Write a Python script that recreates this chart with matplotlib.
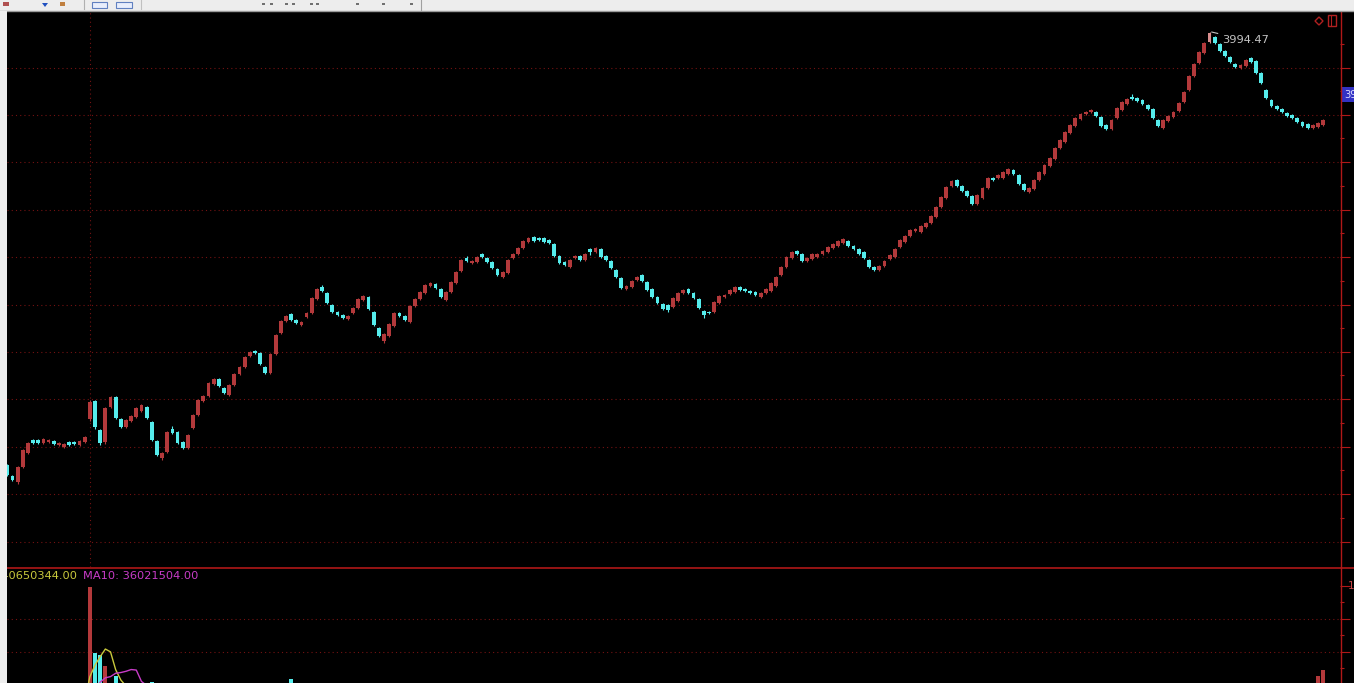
import numpy as np
import pandas as pd
import matplotlib
matplotlib.use("Agg")
import matplotlib.pyplot as plt
from matplotlib.patches import Rectangle, Polygon
from matplotlib.lines import Line2D

# ---------------- data (daily candles, index points) ----------------
opens = [3128, 3106, 3094, 3124, 3152, 3178, 3178, 3172, 3174, 3176,
         3168, 3164, 3174, 3174, 3168, 3174, 3220, 3256, 3198, 3174,
         3244, 3264, 3220, 3204, 3216, 3224, 3236, 3244, 3214, 3176,
         3142, 3154, 3200, 3194, 3174, 3162, 3202, 3228, 3256, 3266,
         3290, 3300, 3282, 3268, 3288, 3310, 3324, 3346, 3356, 3352,
         3324, 3312, 3350, 3392, 3416, 3430, 3418, 3408, 3424, 3432,
         3460, 3484, 3472, 3448, 3434, 3428, 3420, 3432, 3442, 3458,
         3464, 3434, 3402, 3376, 3386, 3406, 3432, 3426, 3414, 3446,
         3460, 3472, 3486, 3490, 3480, 3458, 3474, 3492, 3516, 3542,
         3532, 3534, 3550, 3542, 3534, 3520, 3504, 3512, 3542, 3550,
         3562, 3574, 3584, 3582, 3582, 3578, 3570, 3546, 3534, 3524,
         3542, 3546, 3538, 3560, 3554, 3560, 3546, 3536, 3518, 3502,
         3480, 3484, 3498, 3508, 3494, 3480, 3464, 3450, 3448, 3444,
         3456, 3472, 3480, 3472, 3460, 3436, 3434, 3434, 3452, 3464,
         3470, 3474, 3484, 3480, 3476, 3474, 3464, 3472, 3476, 3486,
         3508, 3524, 3542, 3556, 3550, 3536, 3540, 3544, 3550, 3554,
         3562, 3566, 3572, 3576, 3566, 3560, 3554, 3538, 3524, 3518,
         3526, 3540, 3544, 3564, 3574, 3586, 3596, 3594, 3604, 3612,
         3624, 3644, 3662, 3686, 3698, 3686, 3676, 3666, 3650, 3662,
         3682, 3702, 3702, 3702, 3710, 3718, 3708, 3690, 3674, 3680,
         3698, 3710, 3726, 3740, 3762, 3774, 3792, 3806, 3820, 3830,
         3834, 3834, 3824, 3808, 3800, 3822, 3838, 3850, 3864, 3862,
         3858, 3848, 3840, 3818, 3802, 3816, 3824, 3836, 3854, 3878,
         3906, 3932, 3952, 3974, 3984, 3970, 3956, 3944, 3930, 3922,
         3926, 3942, 3936, 3912, 3878, 3858, 3846, 3840, 3832, 3828,
         3822, 3814, 3810, 3802, 3804, 3808]

closes = [3108, 3098, 3124, 3158, 3172, 3172, 3172, 3180, 3178, 3170,
          3172, 3170, 3168, 3170, 3176, 3184, 3254, 3204, 3172, 3242,
          3264, 3222, 3204, 3218, 3226, 3242, 3248, 3222, 3178, 3148,
          3152, 3194, 3192, 3172, 3162, 3188, 3228, 3258, 3266, 3292,
          3300, 3286, 3272, 3288, 3310, 3324, 3344, 3354, 3352, 3330,
          3312, 3350, 3388, 3416, 3426, 3418, 3412, 3414, 3432, 3462,
          3480, 3476, 3452, 3434, 3428, 3422, 3426, 3442, 3460, 3466,
          3440, 3408, 3386, 3390, 3410, 3432, 3426, 3418, 3446, 3460,
          3474, 3488, 3492, 3482, 3464, 3474, 3494, 3514, 3538, 3536,
          3536, 3544, 3544, 3534, 3522, 3508, 3514, 3538, 3550, 3562,
          3576, 3582, 3576, 3578, 3574, 3572, 3546, 3532, 3528, 3538,
          3546, 3538, 3550, 3554, 3562, 3544, 3538, 3522, 3504, 3482,
          3486, 3496, 3504, 3496, 3478, 3464, 3452, 3440, 3438, 3462,
          3472, 3478, 3472, 3462, 3442, 3428, 3432, 3454, 3466, 3468,
          3478, 3484, 3478, 3476, 3472, 3468, 3472, 3480, 3492, 3504,
          3524, 3544, 3554, 3550, 3536, 3542, 3550, 3550, 3556, 3564,
          3570, 3576, 3580, 3566, 3560, 3550, 3542, 3524, 3518, 3526,
          3536, 3548, 3560, 3578, 3586, 3598, 3600, 3606, 3612, 3626,
          3644, 3664, 3684, 3696, 3686, 3676, 3666, 3650, 3668, 3682,
          3702, 3698, 3708, 3714, 3720, 3710, 3690, 3678, 3682, 3698,
          3714, 3728, 3742, 3762, 3778, 3794, 3808, 3822, 3830, 3834,
          3838, 3826, 3806, 3800, 3818, 3842, 3854, 3860, 3860, 3856,
          3850, 3840, 3822, 3806, 3818, 3826, 3834, 3852, 3874, 3906,
          3930, 3954, 3972, 3992, 3972, 3956, 3946, 3934, 3924, 3928,
          3938, 3934, 3912, 3892, 3862, 3846, 3840, 3834, 3826, 3822,
          3814, 3806, 3802, 3808, 3812, 3818]

highs = [3130, 3108, 3126, 3160, 3174, 3180, 3180, 3182, 3180, 3178,
         3174, 3172, 3176, 3176, 3178, 3186, 3258, 3258, 3200, 3244,
         3266, 3266, 3222, 3220, 3228, 3244, 3250, 3246, 3216, 3178,
         3154, 3196, 3206, 3196, 3176, 3190, 3230, 3260, 3268, 3294,
         3302, 3302, 3284, 3290, 3312, 3326, 3346, 3356, 3358, 3354,
         3326, 3352, 3390, 3418, 3428, 3432, 3420, 3416, 3434, 3464,
         3482, 3488, 3474, 3450, 3436, 3430, 3428, 3444, 3462, 3468,
         3466, 3436, 3404, 3392, 3412, 3434, 3434, 3428, 3448, 3462,
         3476, 3490, 3494, 3492, 3482, 3476, 3496, 3516, 3540, 3546,
         3538, 3546, 3552, 3544, 3536, 3522, 3516, 3540, 3552, 3564,
         3578, 3584, 3586, 3584, 3584, 3580, 3572, 3548, 3536, 3540,
         3548, 3548, 3552, 3562, 3564, 3562, 3548, 3538, 3520, 3504,
         3488, 3498, 3506, 3510, 3496, 3482, 3466, 3452, 3450, 3464,
         3474, 3480, 3482, 3474, 3462, 3438, 3436, 3456, 3468, 3470,
         3480, 3486, 3486, 3482, 3478, 3476, 3474, 3482, 3494, 3506,
         3526, 3546, 3556, 3558, 3552, 3544, 3552, 3552, 3558, 3566,
         3572, 3578, 3582, 3578, 3568, 3562, 3556, 3540, 3526, 3528,
         3538, 3550, 3562, 3580, 3588, 3600, 3602, 3608, 3614, 3628,
         3646, 3666, 3686, 3698, 3700, 3688, 3678, 3668, 3670, 3684,
         3704, 3704, 3710, 3716, 3722, 3720, 3710, 3692, 3684, 3700,
         3716, 3730, 3744, 3764, 3780, 3796, 3810, 3824, 3832, 3836,
         3840, 3836, 3826, 3810, 3820, 3844, 3856, 3862, 3870, 3864,
         3860, 3850, 3842, 3820, 3820, 3828, 3836, 3854, 3876, 3908,
         3932, 3956, 3974, 3994.47, 3986, 3972, 3958, 3946, 3932, 3930,
         3940, 3944, 3938, 3914, 3880, 3860, 3848, 3842, 3834, 3830,
         3824, 3816, 3812, 3810, 3814, 3820]

lows = [3106, 3096, 3090, 3122, 3150, 3170, 3170, 3170, 3172, 3168,
        3166, 3162, 3166, 3168, 3166, 3172, 3216, 3200, 3168, 3170,
        3242, 3220, 3202, 3202, 3214, 3222, 3234, 3220, 3176, 3146,
        3138, 3152, 3190, 3170, 3160, 3160, 3200, 3226, 3254, 3264,
        3288, 3284, 3270, 3266, 3286, 3308, 3322, 3344, 3350, 3328,
        3310, 3310, 3348, 3390, 3414, 3416, 3410, 3406, 3422, 3430,
        3458, 3474, 3450, 3432, 3426, 3420, 3418, 3430, 3440, 3456,
        3438, 3406, 3384, 3372, 3384, 3404, 3424, 3416, 3412, 3444,
        3458, 3470, 3484, 3480, 3462, 3456, 3472, 3490, 3514, 3534,
        3530, 3532, 3542, 3532, 3520, 3506, 3502, 3510, 3540, 3548,
        3560, 3572, 3574, 3576, 3572, 3570, 3544, 3530, 3526, 3522,
        3540, 3536, 3536, 3548, 3552, 3542, 3536, 3520, 3502, 3480,
        3478, 3482, 3496, 3494, 3476, 3462, 3450, 3438, 3434, 3442,
        3454, 3470, 3470, 3460, 3440, 3422, 3430, 3432, 3450, 3462,
        3468, 3472, 3476, 3474, 3470, 3466, 3462, 3470, 3474, 3484,
        3506, 3522, 3540, 3548, 3534, 3534, 3538, 3542, 3548, 3552,
        3560, 3564, 3570, 3564, 3558, 3548, 3540, 3522, 3516, 3516,
        3524, 3538, 3542, 3562, 3572, 3584, 3594, 3592, 3602, 3610,
        3622, 3642, 3660, 3684, 3684, 3674, 3664, 3648, 3648, 3660,
        3680, 3696, 3700, 3700, 3708, 3708, 3688, 3676, 3672, 3678,
        3696, 3708, 3724, 3738, 3760, 3772, 3790, 3804, 3818, 3828,
        3832, 3824, 3804, 3798, 3798, 3820, 3836, 3848, 3858, 3854,
        3848, 3838, 3820, 3804, 3800, 3814, 3822, 3834, 3852, 3876,
        3904, 3930, 3950, 3972, 3970, 3954, 3944, 3932, 3922, 3920,
        3924, 3932, 3910, 3890, 3860, 3844, 3838, 3832, 3824, 3820,
        3812, 3804, 3800, 3800, 3802, 3806]

# volume in millions of shares
volumes_m = [28, 26, 35, 38, 33, 25, 24, 26, 23, 30,
             29, 30, 29, 37, 33, 44, 99.6, 62.2, 60.9, 54.6,
             36, 49, 33, 44, 43, 41, 35, 40, 45.7, 42,
             30, 38, 30, 32, 30, 34, 36, 38, 30, 36,
             32, 33, 28, 30, 33, 30, 34, 28, 26, 32,
             30, 36, 40, 38, 32, 47.3, 33, 28, 30, 38,
             36, 30, 32, 31, 27, 25, 24, 28, 32, 30,
             33, 36, 34, 30, 33, 35, 27, 26, 34, 32,
             31, 33, 30, 29, 31, 30, 32, 34, 36, 30,
             27, 28, 29, 30, 31, 30, 28, 33, 30, 31,
             32, 29, 28, 26, 25, 26, 33, 32, 28, 30,
             27, 26, 28, 27, 26, 29, 28, 31, 33, 35,
             28, 29, 27, 28, 31, 32, 30, 29, 31, 30,
             31, 27, 28, 30, 33, 32, 26, 33, 31, 25,
             28, 29, 27, 25, 24, 25, 26, 27, 31, 32,
             33, 35, 31, 28, 30, 26, 27, 26, 27, 28,
             28, 29, 28, 27, 26, 28, 29, 32, 28, 27,
             29, 28, 31, 33, 31, 30, 26, 29, 28, 32,
             34, 35, 36, 33, 31, 30, 30, 32, 33, 34,
             35, 30, 29, 31, 30, 29, 33, 32, 28, 32,
             33, 34, 33, 36, 35, 36, 35, 36, 33, 30,
             29, 30, 33, 32, 33, 36, 35, 33, 30, 29,
             30, 31, 34, 33, 32, 30, 31, 34, 36, 39,
             40, 41, 40, 42, 38, 36, 33, 32, 31, 29,
             31, 30, 36, 38, 37, 33, 30, 33, 31, 32,
             31, 34, 33, 34.6, 49, 52.6]

peak_label = "3994.47"
vol_label = "MA5: 40650344.00"
ma10_label = "MA10: 36021504.00"
price_tag = "3900.00"
vol_axis_label = "1.00"

n = len(opens)
assert len(closes) == n and len(highs) == n and len(lows) == n and len(volumes_m) == n

# ---------------- style ----------------
UP = "#b3393b"
DOWN = "#55ecec"
PEAK = "#d98e8e"
GRID = "#741212"
AXIS = "#b01818"
W, H = 1354, 683

def fx(px):
    return px / W

def fy(py):
    return 1 - py / H

fig = plt.figure(figsize=(W / 100, H / 100), dpi=100, facecolor="black")

ax = fig.add_axes([fx(7), fy(567), fx(1340) - fx(7), fy(12) - fy(567)], facecolor="black")
axv = fig.add_axes([fx(7), fy(683), fx(1340) - fx(7), fy(568) - fy(683)], facecolor="black")

x = np.arange(n)
o = np.array(opens, float)
c = np.array(closes, float)
hi = np.array(highs, float)
lo = np.array(lows, float)
v = np.array(volumes_m, float)

up = c >= o
colors = np.where(up, UP, DOWN).astype(object)
colors[int(np.argmax(hi))] = PEAK

# wicks and bodies
ax.vlines(x, lo, hi, colors=list(colors), lw=0.8, zorder=3)
body_bottom = np.minimum(o, c)
body_h = np.maximum(np.abs(c - o), 2.0)
ax.bar(x, body_h, bottom=body_bottom, width=0.74, color=list(colors), linewidth=0, zorder=4)

# grid
grid_levels = [3923, 3828, 3734, 3639, 3544, 3449, 3354, 3260, 3165, 3070, 2975]
minor_levels = [g + 47.4 for g in grid_levels]
for g in grid_levels:
    ax.axhline(g, color=GRID, lw=0.8, ls=(0, (1, 2.8)), zorder=1)
ax.axvline(16, color=GRID, lw=0.8, ls=(0, (1, 2.8)), zorder=1)

ax.set_xlim(-0.06, 258.28)
ax.set_ylim(2924, 4034)
for s in ax.spines.values():
    s.set_visible(False)
ax.set_xticks([])
ax.yaxis.set_ticks_position("right")
ax.set_yticks(grid_levels)
ax.set_yticks(minor_levels, minor=True)
ax.set_yticklabels([])
ax.tick_params(axis="y", which="major", direction="out", length=7, width=0.8, color=AXIS)
ax.tick_params(axis="y", which="minor", direction="out", length=3, width=0.8, color=AXIS)

# high label
ax.annotate(peak_label, xy=(233.4, 3994.0), xytext=(235.4, 3978),
            color="#c4c4c4", fontsize=8.2, va="center", ha="left",
            family="DejaVu Sans",
            arrowprops=dict(arrowstyle="-", color="#c4c4c4", lw=0.8,
                            shrinkA=1, shrinkB=0), zorder=6)

# ---------------- volume ----------------
axv.bar(x, v, width=0.74, color=list(np.where(up, UP, DOWN)), linewidth=0, zorder=3)
vs = pd.Series(v)
ma5 = vs.rolling(5).mean()
ma10 = vs.rolling(10).mean()
axv.plot(x, ma5, color="#c8c83c", lw=1.0, zorder=4)
axv.plot(x, ma10, color="#c83cc8", lw=1.0, zorder=4)
vgrid = [81.3, 62.6]
for g in vgrid:
    axv.axhline(g, color=GRID, lw=0.8, ls=(0, (1, 2.8)), zorder=1)
axv.set_xlim(-0.06, 258.28)
axv.set_ylim(45.0, 110.2)
for s in axv.spines.values():
    s.set_visible(False)
axv.set_xticks([])
axv.yaxis.set_ticks_position("right")
axv.set_yticks([100.0, 81.3, 62.6])
axv.set_yticks([90.65, 71.95, 53.25], minor=True)
axv.set_yticklabels([])
axv.tick_params(axis="y", which="major", direction="out", length=7, width=0.8, color=AXIS)
axv.tick_params(axis="y", which="minor", direction="out", length=3, width=0.8, color=AXIS)

fig.text(fx(77), fy(576), vol_label, ha="right", va="center", color="#c8c83c",
         fontsize=8.2, family="DejaVu Sans")
fig.text(fx(83), fy(576), ma10_label, ha="left", va="center", color="#c83cc8",
         fontsize=8.2, family="DejaVu Sans")
fig.text(fx(1348), fy(586), vol_axis_label, ha="left", va="center", color="#c84848",
         fontsize=7.5, family="DejaVu Sans")

# price tag on the right axis
fig.text(fx(1344), fy(94.5), price_tag, ha="left", va="center", color="#dcdcff",
         fontsize=7.2, family="DejaVu Sans",
         bbox=dict(boxstyle="square,pad=0.25", facecolor="#3232c4", edgecolor="none"))

# frame lines
fig.add_artist(Line2D([fx(1340.5), fx(1340.5)], [fy(12), fy(683)], color=AXIS, lw=1.0, zorder=5))
fig.add_artist(Line2D([fx(7), fx(1354)], [fy(567.5), fy(567.5)], color=AXIS, lw=1.2, zorder=5))

# top-right icons
fig.add_artist(Polygon([(fx(1315), fy(21)), (fx(1319), fy(17)), (fx(1323), fy(21)), (fx(1319), fy(25))],
                       closed=True, fill=False, edgecolor="#b02020", lw=1.0, zorder=6))
fig.add_artist(Rectangle((fx(1328), fy(26)), fx(8), 11 / H, fill=False, edgecolor="#b02020", lw=1.0, zorder=6))
fig.add_artist(Line2D([fx(1331), fx(1331)], [fy(16), fy(26)], color="#b02020", lw=0.8, zorder=6))

# window chrome: toolbar strip and left border
fig.add_artist(Rectangle((0, fy(10.5)), 1, 10.5 / H, facecolor="#ededed", edgecolor="none", zorder=8))
fig.add_artist(Line2D([0, 1], [fy(11), fy(11)], color="#9a9a9a", lw=1.0, zorder=8))
fig.add_artist(Rectangle((0, 0), fx(7), fy(11), facecolor="#eeeeee", edgecolor="none", zorder=8))
# toolbar icons
fig.add_artist(Rectangle((fx(3), fy(6)), fx(6), 4 / H, facecolor="#b05050", edgecolor="none", zorder=9))
fig.add_artist(Polygon([(fx(42), fy(3)), (fx(48), fy(3)), (fx(45), fy(7))], closed=True,
                       facecolor="#2050c0", edgecolor="none", zorder=9))
fig.add_artist(Rectangle((fx(60), fy(6)), fx(5), 4 / H, facecolor="#c08040", edgecolor="none", zorder=9))
fig.add_artist(Line2D([fx(84), fx(84)], [fy(0), fy(9)], color="#b0b0b0", lw=0.8, zorder=9))
fig.add_artist(Rectangle((fx(92), fy(8)), fx(15), 6 / H, facecolor="#e8eefc", edgecolor="#6080c0", lw=0.8, zorder=9))
fig.add_artist(Rectangle((fx(116), fy(8)), fx(16), 6 / H, facecolor="#e8eefc", edgecolor="#6080c0", lw=0.8, zorder=9))
fig.add_artist(Line2D([fx(141), fx(141)], [fy(0), fy(9)], color="#c0c0c0", lw=0.8, zorder=9))
for px in [262, 270, 285, 292, 310, 316, 356, 382, 410]:
    fig.add_artist(Rectangle((fx(px), fy(5)), fx(3), 2 / H, facecolor="#707070", edgecolor="none", zorder=9))
fig.add_artist(Line2D([fx(421), fx(421)], [fy(0), fy(10)], color="#a0a0a0", lw=0.8, zorder=9))

fig.savefig("out.png", dpi=100, facecolor="black")
